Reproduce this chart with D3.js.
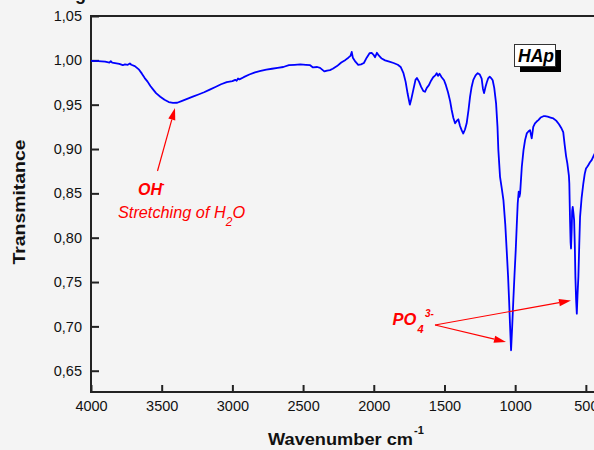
<!DOCTYPE html>
<html>
<head>
<meta charset="utf-8">
<script src="https://cdn.jsdelivr.net/npm/d3@7"></script>
<style>
html,body{margin:0;padding:0;background:#f4f4f4;}
svg{display:block;}
</style>
</head>
<body>
<svg id="chart" width="594" height="450"></svg>
<script>
// ---- data ----
const wavenumber = [4000,3950,3900,3870,3860,3850,3800,3775,3760,3740,3725,3715,3690,3660,3640,3620,3600,3580,3560,3540,3510,3480,3450,3420,3390,3360,3320,3280,3240,3200,3160,3120,3080,3040,3000,2980,2970,2960,2950,2920,2880,2840,2800,2760,2720,2680,2640,2600,2560,2520,2480,2450,2430,2400,2380,2350,2330,2310,2290,2260,2230,2200,2180,2165,2156,2148,2130,2110,2090,2070,2050,2030,2015,2003,1991,1978,1965,1944,1920,1890,1860,1830,1810,1790,1775,1760,1745,1735,1720,1705,1695,1680,1665,1650,1638,1625,1610,1595,1580,1565,1555,1545,1535,1520,1503,1490,1475,1460,1449,1437,1425,1412,1402,1390,1378,1367,1355,1343,1330,1319,1308,1296,1280,1265,1250,1237,1228,1220,1210,1201,1190,1180,1170,1159,1148,1135,1125,1119,1107,1095,1083,1070,1060,1050,1043,1036,1029,1021,1013,1005,996,989,982,975,970,965,953,941,930,918,905,895,883,872,860,848,836,820,800,789,770,750,730,710,690,675,660,650,640,631,620,617,612,608,605,600,597,593,588,583,578,574,569,564,559,553,547,541,530,518,508,499,490,483,471,459,443,420,400];
const transmittance = [0.9995,0.9990,0.9985,0.9975,0.9990,0.9975,0.9960,0.9945,0.9955,0.9950,0.9965,0.9950,0.9935,0.9895,0.9850,0.9800,0.9760,0.9710,0.9670,0.9630,0.9590,0.9555,0.9530,0.9520,0.9522,0.9540,0.9565,0.9590,0.9615,0.9640,0.9670,0.9700,0.9730,0.9755,0.9765,0.9780,0.9770,0.9795,0.9785,0.9810,0.9840,0.9865,0.9880,0.9895,0.9905,0.9915,0.9925,0.9945,0.9950,0.9955,0.9950,0.9945,0.9920,0.9925,0.9915,0.9875,0.9885,0.9890,0.9905,0.9935,0.9975,1.0005,1.0030,1.0050,1.0095,1.0030,0.9985,0.9950,0.9955,0.9970,1.0030,1.0080,1.0085,1.0065,1.0035,1.0085,1.0055,1.0020,1.0000,0.9985,0.9970,0.9950,0.9925,0.9855,0.9760,0.9620,0.9500,0.9560,0.9670,0.9780,0.9800,0.9760,0.9700,0.9655,0.9645,0.9690,0.9720,0.9770,0.9810,0.9830,0.9855,0.9825,0.9850,0.9810,0.9775,0.9720,0.9640,0.9540,0.9440,0.9350,0.9290,0.9320,0.9335,0.9260,0.9210,0.9175,0.9220,0.9290,0.9440,0.9590,0.9700,0.9780,0.9830,0.9855,0.9840,0.9795,0.9680,0.9630,0.9700,0.9750,0.9800,0.9815,0.9800,0.9775,0.9690,0.9515,0.9250,0.8990,0.8686,0.8560,0.8423,0.8150,0.7860,0.7560,0.7295,0.7000,0.6730,0.7000,0.7295,0.7570,0.7860,0.8130,0.8386,0.8520,0.8460,0.8500,0.8800,0.8988,0.9100,0.9176,0.9200,0.9213,0.9120,0.9250,0.9290,0.9310,0.9326,0.9355,0.9370,0.9371,0.9365,0.9355,0.9345,0.9320,0.9280,0.9240,0.9190,0.9050,0.8920,0.8838,0.8700,0.8611,0.8200,0.7950,0.7878,0.8100,0.8300,0.8348,0.8280,0.8198,0.7900,0.7557,0.7300,0.7144,0.7350,0.7557,0.7900,0.8235,0.8450,0.8611,0.8720,0.8780,0.8800,0.8818,0.8850,0.8875,0.8931,0.9000,0.9050];
const xTicks = [4000,3500,3000,2500,2000,1500,1000,500];
const yTicks = [0.65,0.70,0.75,0.80,0.85,0.90,0.95,1.00,1.05];

(function () {
const svg = d3.select("#chart");
const pL = 91, pR = 600, pT = 16, pB = 392;
const ff = "Liberation Sans, Arial, sans-serif";
const x = d3.scaleLinear().domain([4000, 400]).range([pL, pR]);
const y = d3.scaleLinear().domain([0.626, 1.05]).range([pB, pT]);
const fmt = d => d3.format(".2f")(d).replace(".", ",");

svg.append("rect").attr("width", 594).attr("height", 450).attr("fill", "#f4f4f4");

// partial caption glyph cut at the top
svg.append("text").attr("x", 75).attr("y", 0).attr("font-family", ff)
  .attr("font-size", 18).attr("font-weight", "bold").attr("fill", "#111").text("g");

// axes
const yAxis = svg.append("g").attr("transform", `translate(${pL},0)`)
  .call(d3.axisLeft(y).tickValues(yTicks).tickSize(-8).tickPadding(9).tickFormat(fmt));
const xAxis = svg.append("g").attr("transform", `translate(0,${pB})`)
  .call(d3.axisBottom(x).tickValues(xTicks).tickSize(-7).tickPadding(9).tickFormat(d3.format("d")));
[yAxis, xAxis].forEach(g => {
  g.select(".domain").remove();
  g.selectAll("line").attr("stroke", "#222").attr("stroke-width", 2);
  g.selectAll("text").attr("font-family", ff).attr("font-size", 14.5).attr("fill", "#111");
});

// frame
svg.append("path").attr("d", `M${pR},${pT}H${pL}V${pB}H${pR}`)
  .attr("fill", "none").attr("stroke", "#222").attr("stroke-width", 2);

// spectrum
const pts = wavenumber.map((w, i) => [w, transmittance[i]]);
svg.append("path").datum(pts)
  .attr("d", d3.line().x(d => x(d[0])).y(d => y(d[1])))
  .attr("fill", "none").attr("stroke", "#0000ff").attr("stroke-width", 1.8).attr("stroke-linejoin", "round");

// axis titles
svg.append("text").attr("transform", "translate(25,202) rotate(-90)").attr("text-anchor", "middle")
  .attr("font-family", ff).attr("font-weight", "bold").attr("font-size", 17)
  .attr("textLength", 125).attr("lengthAdjust", "spacingAndGlyphs").attr("fill", "#111").text("Transmitance");
svg.append("text").attr("x", 268).attr("y", 445)
  .attr("font-family", ff).attr("font-weight", "bold").attr("font-size", 17)
  .attr("textLength", 145).attr("lengthAdjust", "spacingAndGlyphs").attr("fill", "#111").text("Wavenumber cm");
svg.append("text").attr("x", 414).attr("y", 434)
  .attr("font-family", ff).attr("font-weight", "bold").attr("font-size", 11)
  .attr("fill", "#111").text("-1");

// HAp label
svg.append("rect").attr("x", 520).attr("y", 50).attr("width", 41).attr("height", 22).attr("fill", "#000");
svg.append("rect").attr("x", 514.5).attr("y", 44.5).attr("width", 41).attr("height", 22)
  .attr("fill", "#fff").attr("stroke", "#333").attr("stroke-width", 1);
svg.append("text").attr("x", 518).attr("y", 61.5).attr("font-family", ff)
  .attr("font-weight", "bold").attr("font-style", "italic").attr("font-size", 17.5).attr("fill", "#000").text("HAp");

// annotations
const red = "#ff0000";
function arrow(x1, y1, x2, y2) {
  const a = Math.atan2(y2 - y1, x2 - x1), L = 12, W = 3.6;
  const bx = x2 - L * Math.cos(a), by = y2 - L * Math.sin(a);
  svg.append("line").attr("x1", x1).attr("y1", y1).attr("x2", bx).attr("y2", by)
    .attr("stroke", red).attr("stroke-width", 1.2);
  svg.append("path").attr("d",
    `M${x2},${y2}L${bx - W * Math.sin(a)},${by + W * Math.cos(a)}L${bx + W * Math.sin(a)},${by - W * Math.cos(a)}Z`)
    .attr("fill", red);
}
arrow(157.5, 171, 175, 108);
arrow(435, 325, 506, 342);
arrow(435, 325, 571, 300.5);

svg.append("text").attr("x", 138).attr("y", 195).attr("font-family", ff)
  .attr("font-weight", "bold").attr("font-style", "italic").attr("font-size", 16).attr("fill", red).text("OH");
svg.append("text").attr("x", 161).attr("y", 187).attr("font-family", ff).attr("font-weight", "bold")
  .attr("font-size", 11).attr("fill", red).text("-");

const st = svg.append("text").attr("x", 118).attr("y", 218).attr("font-family", ff)
  .attr("font-style", "italic").attr("font-size", 16.3).attr("fill", red);
st.append("tspan").text("Stretching of H");
st.append("tspan").attr("dy", 8).attr("font-size", 12).text("2");
st.append("tspan").attr("dy", -8).text("O");

svg.append("text").attr("x", 392.5).attr("y", 325).attr("font-family", ff).attr("font-weight", "bold")
  .attr("font-style", "italic").attr("font-size", 16.5).attr("fill", red).text("PO");
svg.append("text").attr("x", 417.5).attr("y", 333).attr("font-family", ff).attr("font-weight", "bold")
  .attr("font-style", "italic").attr("font-size", 11).attr("fill", red).text("4");
svg.append("text").attr("x", 425).attr("y", 317).attr("font-family", ff).attr("font-weight", "bold")
  .attr("font-style", "italic").attr("font-size", 10).attr("fill", red).text("3-");
})();
</script>
</body>
</html>
